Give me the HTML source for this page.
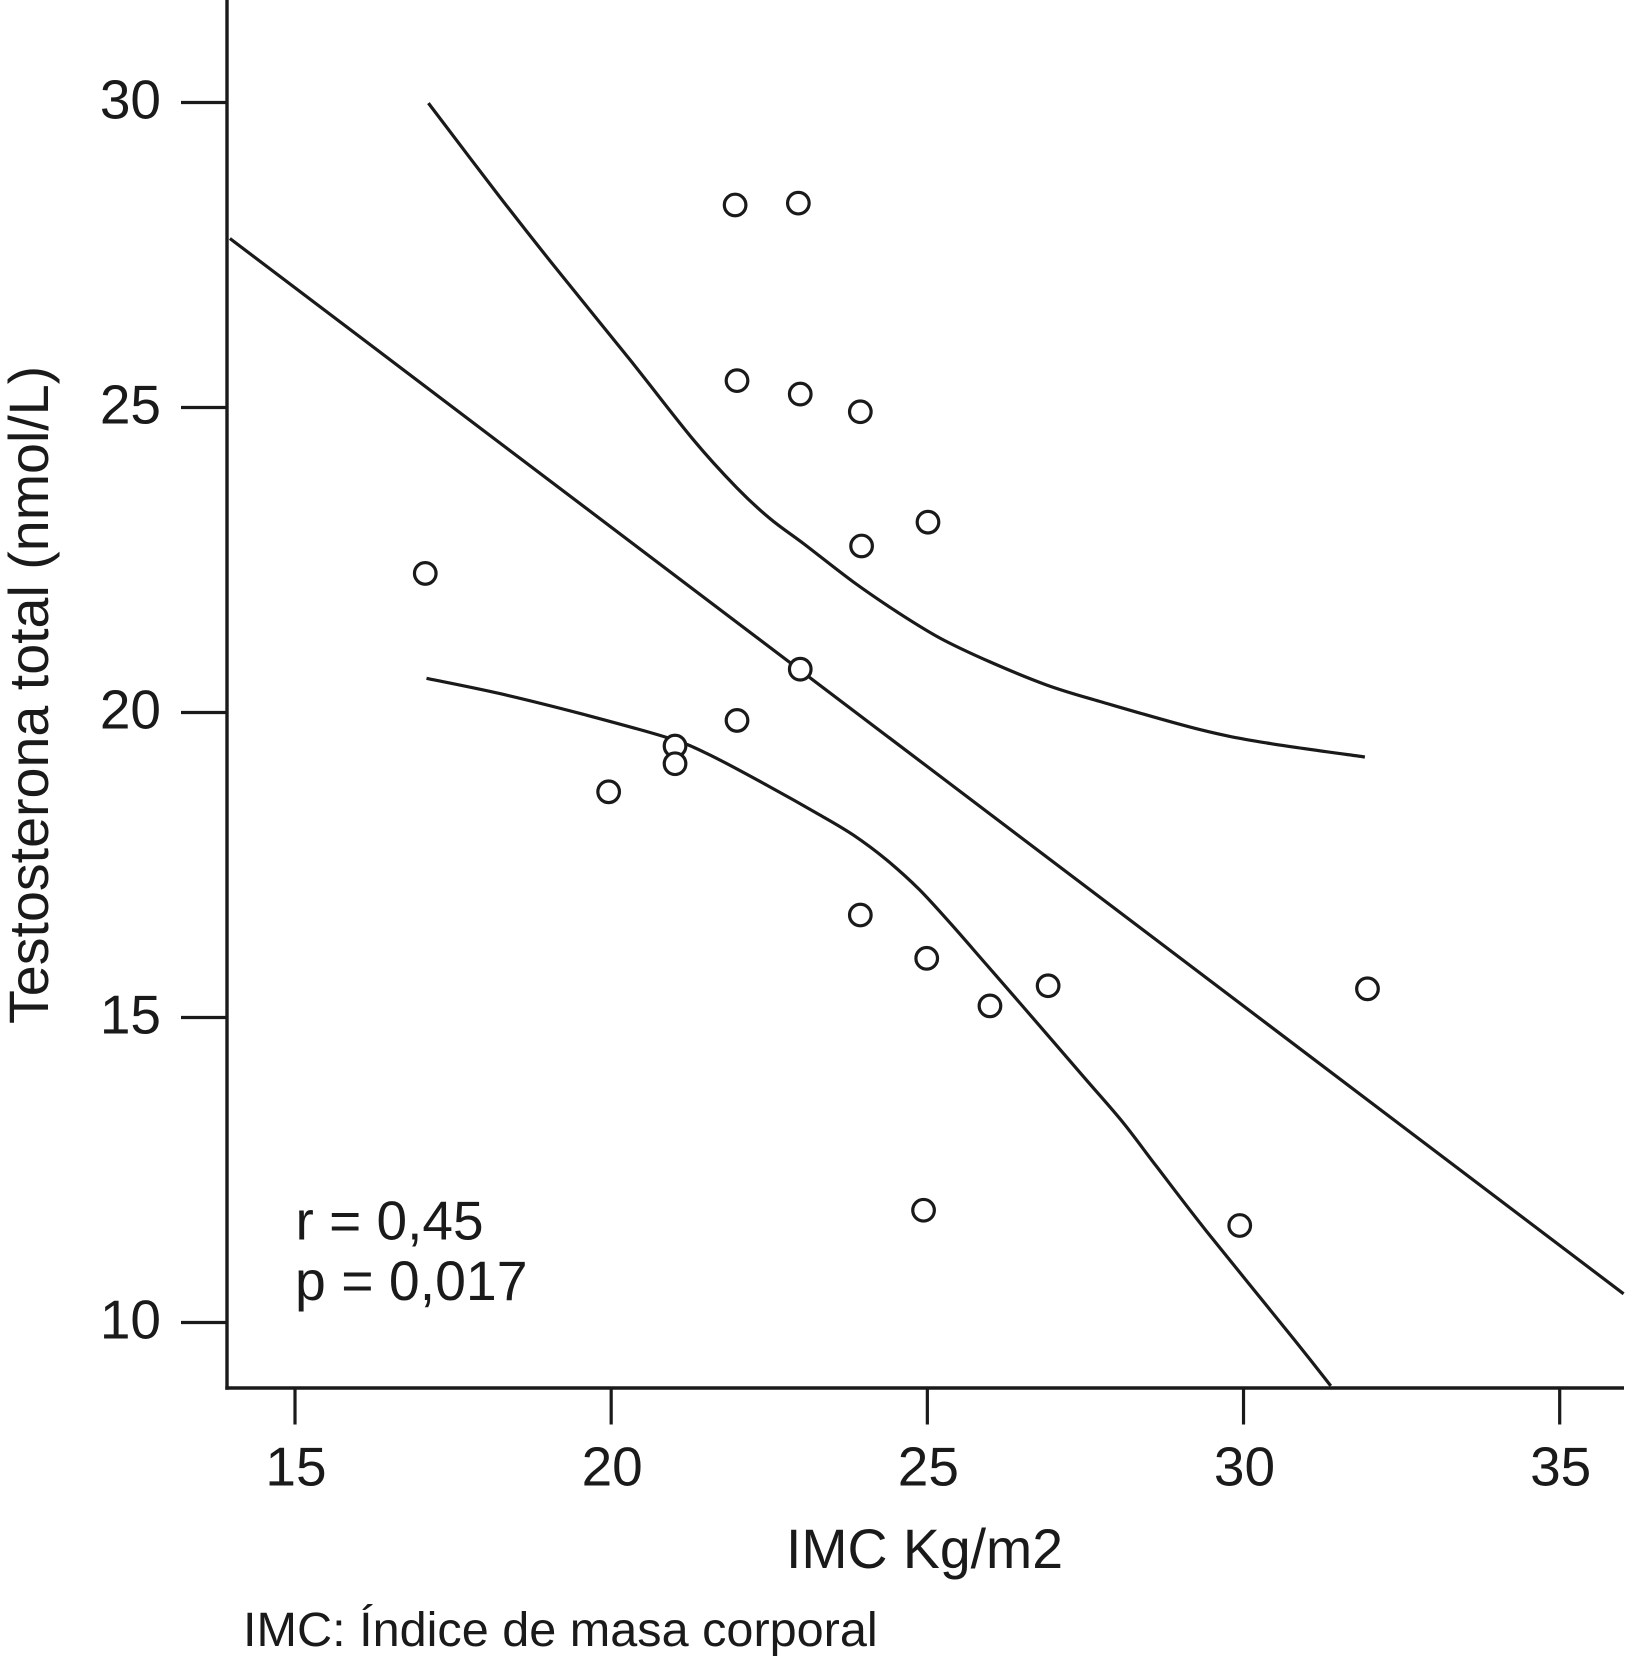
<!DOCTYPE html>
<html lang="es">
<head>
<meta charset="utf-8">
<title>Testosterona total vs IMC</title>
<style>
html,body{margin:0;padding:0;background:#fff;}
body{width:1625px;height:1663px;overflow:hidden;}
svg{display:block;}
text{font-family:"Liberation Sans",Arial,sans-serif;fill:#1a1a1a;}
</style>
</head>
<body>
<svg id="chart" xmlns="http://www.w3.org/2000/svg" width="1625" height="1663" viewBox="0 0 1625 1663">
  <rect x="0" y="0" width="1625" height="1663" fill="#ffffff"/>
  <g id="series-layer"></g>
  <g id="axes-layer"></g>
  <g id="points-layer"></g>
  <text transform="translate(48 1024) rotate(-90)" font-size="55.6">Testosterona total (nmol/L)</text>
  <text x="786" y="1568" font-size="55.4">IMC Kg/m2</text>
  <text x="295.5" y="1239.5" font-size="55">r = 0,45</text>
  <text x="295" y="1300" font-size="55.4">p = 0,017</text>
  <text x="243" y="1646" font-size="48.6">IMC: Índice de masa corporal</text>
</svg>
<script>
const xTicks = [15, 20, 25, 30, 35];
const yTicks = [30, 25, 20, 15, 10];

const pointX = [21.96, 22.96, 21.99, 22.99, 23.94, 25.01, 23.96, 17.06, 22.99, 21.99, 21.01, 21.01, 19.96, 23.94, 24.99, 25.99, 26.91, 31.96, 24.94, 29.94];
const pointY = [28.32, 28.35, 25.44, 25.22, 24.93, 23.12, 22.73, 22.28, 20.71, 19.87, 19.45, 19.16, 18.70, 16.68, 15.97, 15.19, 15.52, 15.47, 11.84, 11.59];

const fitX = [13.97, 36.01];
const fitY = [27.77, 10.47];

const upperX = [17.11, 18.24, 19.19, 20.30, 21.30, 21.99, 22.51, 23.04, 23.83, 24.52, 25.20, 25.99, 26.89, 27.73, 29.31, 30.37, 31.92];
const upperY = [29.99, 28.45, 27.20, 25.78, 24.47, 23.68, 23.18, 22.77, 22.14, 21.65, 21.22, 20.83, 20.45, 20.18, 19.72, 19.50, 19.27];

const lowerX = [17.08, 18.24, 19.56, 20.88, 21.51, 22.46, 23.30, 23.83, 24.36, 24.88, 25.41, 25.94, 26.47, 27.47, 28.10, 28.63, 29.42, 30.81, 31.38];
const lowerY = [20.56, 20.31, 19.97, 19.59, 19.33, 18.81, 18.32, 17.99, 17.58, 17.09, 16.49, 15.86, 15.23, 14.03, 13.27, 12.55, 11.49, 9.71, 8.96];

const SVG_NS = 'http://www.w3.org/2000/svg';
const INK = '#1a1a1a';
const X_AXIS_Y = 1388;
const Y_AXIS_X = 227;
const RIGHT_EDGE = 1624;

function xScale(v) { return 295 + (v - 15) * 63.235; }
function yScale(v) { return 712.5 - (v - 20) * 61; }

function make(tag, parent, attrs) {
  const el = document.createElementNS(SVG_NS, tag);
  for (const k in attrs) el.setAttribute(k, attrs[k]);
  parent.appendChild(el);
  return el;
}

function smoothPath(xs, ys) {
  const p = xs.map((x, i) => [xScale(x), yScale(ys[i])]);
  let d = 'M' + p[0][0].toFixed(1) + ' ' + p[0][1].toFixed(1);
  for (let i = 0; i < p.length - 1; i++) {
    const a = p[Math.max(i - 1, 0)], b = p[i], c = p[i + 1], e = p[Math.min(i + 2, p.length - 1)];
    const c1x = b[0] + (c[0] - a[0]) / 6, c1y = b[1] + (c[1] - a[1]) / 6;
    const c2x = c[0] - (e[0] - b[0]) / 6, c2y = c[1] - (e[1] - b[1]) / 6;
    d += 'C' + c1x.toFixed(1) + ' ' + c1y.toFixed(1) + ' ' + c2x.toFixed(1) + ' ' + c2y.toFixed(1) + ' ' + c[0].toFixed(1) + ' ' + c[1].toFixed(1);
  }
  return d;
}

const seriesLayer = document.getElementById('series-layer');
const axesLayer = document.getElementById('axes-layer');
const pointsLayer = document.getElementById('points-layer');

const upperCurve = make('path', seriesLayer, { d: smoothPath(upperX, upperY), fill: 'none', stroke: INK, 'stroke-width': 3.2 });



const fitLine = make('path', seriesLayer, { d: smoothPath(fitX, fitY), fill: 'none', stroke: INK, 'stroke-width': 3.2 });



const lowerCurve = make('path', seriesLayer, { d: smoothPath(lowerX, lowerY), fill: 'none', stroke: INK, 'stroke-width': 3.2 });



const yAxis = make('line', axesLayer, { x1: Y_AXIS_X, y1: 0, x2: Y_AXIS_X, y2: X_AXIS_Y + 1.7, stroke: INK, 'stroke-width': 3.4 });



const xAxis = make('line', axesLayer, { x1: Y_AXIS_X - 1.7, y1: X_AXIS_Y, x2: RIGHT_EDGE, y2: X_AXIS_Y, stroke: INK, 'stroke-width': 3.4 });



xTicks.forEach(function (v) {
  const tick = make('line', axesLayer, { x1: xScale(v), y1: X_AXIS_Y, x2: xScale(v), y2: 1424.5, stroke: INK, 'stroke-width': 3.2 });
  
  
  const label = make('text', axesLayer, { x: xScale(v) + 1, y: 1485.5, 'font-size': 55, 'text-anchor': 'middle' });
  
  
  label.textContent = String(v);
});

yTicks.forEach(function (v) {
  const tick = make('line', axesLayer, { x1: 181, y1: yScale(v), x2: Y_AXIS_X, y2: yScale(v), stroke: INK, 'stroke-width': 3.2 });
  
  
  const label = make('text', axesLayer, { x: 161, y: yScale(v) + 16, 'font-size': 55, 'text-anchor': 'end' });
  
  
  label.textContent = String(v);
});

pointX.forEach(function (x, i) {
  const dot = make('circle', pointsLayer, { cx: xScale(x), cy: yScale(pointY[i]), r: 10.8, fill: '#ffffff', stroke: INK, 'stroke-width': 3.2 });
  
  
});
</script>
</body>
</html>
